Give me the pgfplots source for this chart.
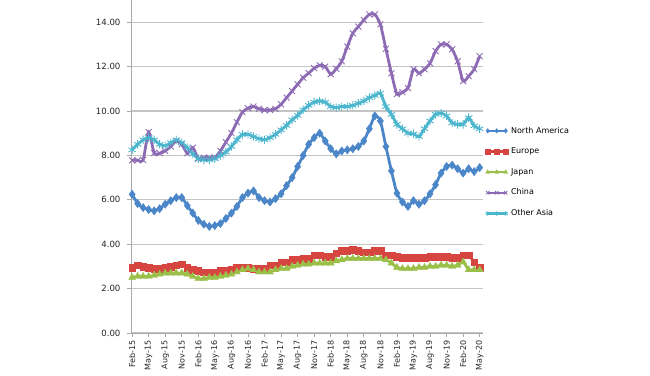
\documentclass[border=0pt]{standalone}
\usepackage{fontspec}
\setmainfont{DejaVu Sans}
\usepackage{pgfplots}
\pgfplotsset{compat=1.18}
\usepackage{pgfplotstable}
\definecolor{cna}{HTML}{4A86C8}
\definecolor{ceu}{HTML}{D6453F}
\definecolor{cjp}{HTML}{9BC04A}
\definecolor{ccn}{HTML}{8D6BB4}
\definecolor{coa}{HTML}{4BB6CE}
\definecolor{cgrid}{HTML}{C4C4C4}
\definecolor{caxis}{HTML}{A8A8A8}
\pgfplotstableread{
i na eu jp cn oa
0 6.25 2.95 2.50 7.78 8.25
1 5.83 3.05 2.55 7.78 8.50
2 5.65 3.00 2.55 7.80 8.70
3 5.56 2.95 2.55 9.05 8.80
4 5.50 2.90 2.60 8.10 8.70
5 5.60 2.90 2.65 8.10 8.50
6 5.80 2.95 2.70 8.20 8.43
7 5.96 3.00 2.70 8.40 8.57
8 6.10 3.05 2.70 8.65 8.70
9 6.10 3.10 2.70 8.50 8.57
10 5.74 2.95 2.65 8.10 8.35
11 5.40 2.85 2.55 8.35 8.07
12 5.07 2.80 2.45 7.85 7.85
13 4.90 2.75 2.45 7.90 7.80
14 4.80 2.75 2.50 7.90 7.80
15 4.84 2.75 2.50 7.90 7.85
16 4.93 2.80 2.55 8.20 8.00
17 5.16 2.80 2.60 8.60 8.15
18 5.40 2.85 2.65 9.00 8.40
19 5.70 2.95 2.75 9.50 8.70
20 6.10 2.95 2.85 9.95 8.95
21 6.30 2.95 2.90 10.13 8.95
22 6.40 2.90 2.85 10.20 8.85
23 6.10 2.90 2.75 10.10 8.75
24 5.96 2.90 2.75 10.04 8.70
25 5.90 3.05 2.75 10.04 8.80
26 6.05 3.05 2.85 10.10 8.95
27 6.27 3.20 2.90 10.30 9.15
28 6.64 3.20 2.90 10.60 9.35
29 7.00 3.30 3.00 10.90 9.60
30 7.50 3.30 3.05 11.20 9.80
31 8.00 3.35 3.10 11.50 10.05
32 8.50 3.35 3.10 11.70 10.25
33 8.80 3.50 3.15 11.93 10.40
34 9.00 3.50 3.15 12.06 10.45
35 8.65 3.45 3.15 12.00 10.40
36 8.30 3.45 3.15 11.66 10.20
37 8.07 3.60 3.25 11.90 10.15
38 8.20 3.70 3.30 12.24 10.20
39 8.25 3.70 3.35 12.90 10.20
40 8.30 3.75 3.35 13.50 10.25
41 8.40 3.70 3.35 13.80 10.35
42 8.65 3.65 3.35 14.10 10.45
43 9.20 3.65 3.35 14.35 10.60
44 9.78 3.70 3.35 14.35 10.70
45 9.55 3.70 3.35 13.90 10.80
46 8.40 3.50 3.30 12.80 10.20
47 7.30 3.50 3.15 11.70 9.85
48 6.30 3.45 2.95 10.76 9.40
49 5.90 3.40 2.90 10.85 9.20
50 5.70 3.40 2.90 11.03 9.00
51 5.96 3.40 2.90 11.88 8.97
52 5.80 3.40 2.95 11.70 8.85
53 5.96 3.40 2.95 11.88 9.20
54 6.27 3.45 3.00 12.15 9.55
55 6.68 3.45 3.00 12.70 9.85
56 7.20 3.45 3.05 13.00 9.90
57 7.50 3.45 3.05 13.00 9.78
58 7.56 3.40 3.00 12.78 9.46
59 7.40 3.40 3.05 12.24 9.40
60 7.20 3.50 3.20 11.35 9.40
61 7.40 3.50 2.85 11.57 9.70
62 7.27 3.20 2.85 11.88 9.33
63 7.45 2.95 2.85 12.47 9.20
}\data
\begin{document}
\begin{tikzpicture}
\path[use as bounding box] (0,0) rectangle (650pt,375pt);
\begin{axis}[
  at={(131pt,42pt)}, anchor=south west,
  scale only axis, width=352pt, height=333pt,
  xmin=-0.2, xmax=63.6, ymin=0, ymax=15,
  axis x line=bottom, axis y line=left,
  axis line style={-, draw=caxis, line width=1pt},
  clip=false,
  ytick={0,2,...,14},
  /pgf/number format/fixed,
  /pgf/number format/fixed zerofill,
  /pgf/number format/precision=2,
  /pgf/number format/assume math mode=true,
  yticklabel style={font=\fontsize{8.6}{10}\selectfont, text=black!85, xshift=-3pt},
  ymajorgrids, grid style={cgrid, line width=1.2pt},
  xtick={0,3,...,63},
  xticklabels={Feb-15,May-15,Aug-15,Nov-15,Feb-16,May-16,Aug-16,Nov-16,Feb-17,May-17,Aug-17,Nov-17,Feb-18,May-18,Aug-18,Nov-18,Feb-19,May-19,Aug-19,Nov-19,Feb-20,May-20},
  xticklabel style={rotate=90, anchor=east, font=\fontsize{8}{9}\selectfont, text=black!85},
  tick align=outside, major tick length=4pt,
  tick style={caxis, line width=0.8pt},
  legend style={at={(1.006,0.625)}, anchor=north west, draw=none, fill=none,
    font=\fontsize{8}{9}\selectfont, row sep=9.2pt, inner sep=0pt, column sep=1pt},
  legend cell align=left,
  legend image code/.code={\draw[#1, line width=2.4pt, mark size=2.4pt] plot coordinates {(0pt,0pt) (9pt,0pt) (18pt,0pt)};},
]
\addplot[color=cna, line width=2.8pt, smooth, tension=0.4, mark=diamond*, mark size=4.2pt, mark options={solid, line width=0.3pt}] table[x=i,y=na]{\data};
\addlegendentry{North America}
\addplot[color=ceu, line width=2.8pt, smooth, tension=0.4, mark=square*, mark size=3.3pt, mark options={solid, line width=0.3pt}] table[x=i,y=eu]{\data};
\addlegendentry{Europe}
\addplot[color=cjp, line width=2.8pt, smooth, tension=0.4, mark=triangle*, mark size=4.1pt, mark options={solid, line width=0.3pt}] table[x=i,y=jp]{\data};
\addlegendentry{Japan}
\addplot[color=ccn, line width=2.8pt, smooth, tension=0.4, mark=x, mark size=4.2pt, mark options={solid, line width=0.9pt}] table[x=i,y=cn]{\data};
\addlegendentry{China}
\addplot[color=coa, line width=2.8pt, smooth, tension=0.4, mark=asterisk, mark size=4.2pt, mark options={solid, line width=0.9pt}] table[x=i,y=oa]{\data};
\addlegendentry{Other Asia}
\end{axis}
\end{tikzpicture}
\end{document}
